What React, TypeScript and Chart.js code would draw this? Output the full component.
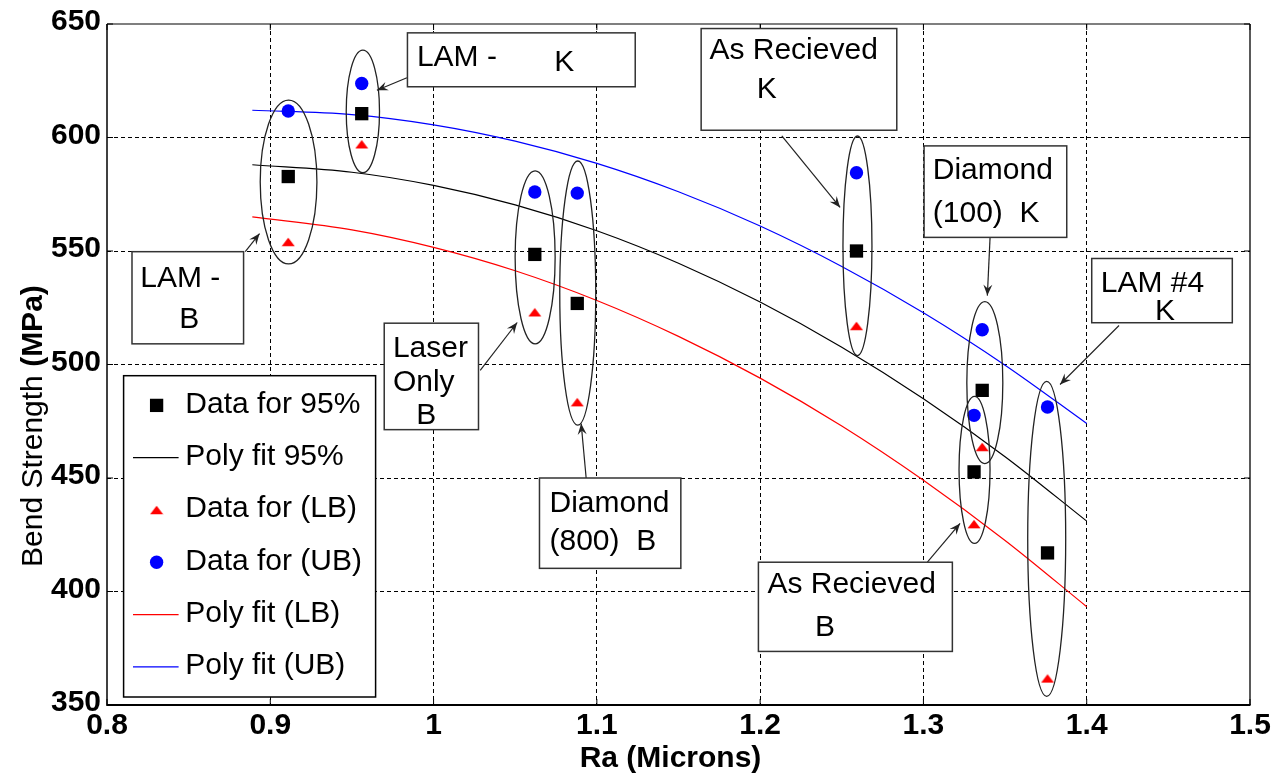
import React, { useEffect, useRef } from "react";
import { Chart, registerables } from "chart.js";

Chart.register(...registerables);

const FONT = '"Liberation Sans", Arial, Helvetica, sans-serif';

// Surface roughness (Ra, microns) of each specimen group
const groupRa = [0.911, 0.956, 1.062, 1.088, 1.259, 1.336, 1.331, 1.376];
// Bend strength (MPa): 95% value, lower bound, upper bound
const strength95 = [582.8, 610.5, 548.5, 526.9, 550.0, 488.6, 452.7, 417.0];
const strengthLB = [554.0, 597.0, 523.0, 483.4, 517.0, 463.7, 429.7, 361.7];
const strengthUB = [611.7, 623.8, 576.0, 575.5, 584.5, 515.3, 477.6, 481.3];

// Polynomial fit curves sampled along Ra
const fitRa = [0.889, 0.95, 1.0, 1.05, 1.1, 1.15, 1.2, 1.25, 1.3, 1.35, 1.4];
const fit95 = [588, 584.7, 578.9, 570.3, 558.9, 544.6, 527.5, 507.6, 484.9, 459.4, 431];
const fitLB = [565, 559.3, 551.6, 541.3, 528.2, 512.4, 494, 472.9, 449.0, 422.5, 393.3];
const fitUB = [612, 610.1, 605.6, 598.4, 588.6, 576.1, 561, 543.2, 522.8, 499.7, 474];

// Axis ticks
const xTicks = [0.8, 0.9, 1.0, 1.1, 1.2, 1.3, 1.4, 1.5];
const xTickLabels = ["0.8", "0.9", "1", "1.1", "1.2", "1.3", "1.4", "1.5"];
const yTicks = [350, 400, 450, 500, 550, 600, 650];
const yTickLabels = ["350", "400", "450", "500", "550", "600", "650"];

// Rings around each specimen group (centre in Ra / MPa, half-extents in axis units)
const groupRings = [
  { x: 0.9112, y: 580.4, rx: 0.01736, ry: 36.1 },
  { x: 0.9567, y: 611.5, rx: 0.01019, ry: 27.0 },
  { x: 1.0622, y: 547.2, rx: 0.01225, ry: 38.1 },
  { x: 1.0883, y: 531.45, rx: 0.01102, ry: 58.2 },
  { x: 1.2596, y: 552.3, rx: 0.00888, ry: 48.35 },
  { x: 1.3376, y: 492.0, rx: 0.01102, ry: 35.7 },
  { x: 1.3313, y: 453.6, rx: 0.00949, ry: 32.4 },
  { x: 1.3755, y: 423.2, rx: 0.01163, ry: 69.4 },
];

// Callout boxes: box corners, text lines (left / baseline) and arrow (from -> to), in Ra / MPa
const callouts = [
  {
    box: [0.984, 646.1, 1.1235, 622.35],
    lines: [
      { text: "LAM -", x: 0.9898, y: 631.45 },
      { text: "K", x: 1.0739, y: 629.25 },
    ],
    arrow: [0.98368, 626.3, 0.96531, 620.8],
  },
  {
    box: [0.81531, 549.7, 0.88364, 509.1],
    lines: [
      { text: "LAM -", x: 0.82039, y: 534.3 },
      { text: "B", x: 0.84427, y: 516.15 },
    ],
    arrow: [0.88467, 549.7, 0.89343, 557.7],
  },
  {
    box: [0.96978, 518.2, 1.02751, 471.3],
    lines: [
      { text: "Laser", x: 0.97511, y: 503.5 },
      { text: "Only", x: 0.97511, y: 488.2 },
      { text: "B", x: 0.98937, y: 474.0 },
    ],
    arrow: [1.02856, 497.4, 1.05121, 518.5],
  },
  {
    box: [1.06486, 450.0, 1.15143, 410.2],
    lines: [
      { text: "Diamond", x: 1.07098, y: 435.1 },
      { text: "(800)  B", x: 1.07098, y: 418.3 },
    ],
    arrow: [1.09345, 450.0, 1.09039, 473.96],
  },
  {
    box: [1.16387, 648.0, 1.28368, 603.2],
    lines: [
      { text: "As Recieved", x: 1.16894, y: 634.4 },
      { text: "K", x: 1.19797, y: 617.5 },
    ],
    arrow: [1.21327, 600.7, 1.24897, 569.2],
  },
  {
    box: [1.3004, 596.3, 1.38777, 556.0],
    lines: [
      { text: "Diamond", x: 1.30573, y: 581.6 },
      { text: "(100)  K", x: 1.30573, y: 562.6 },
    ],
    arrow: [1.34081, 556.0, 1.33915, 530.35],
  },
  {
    box: [1.19894, 412.9, 1.31772, 373.6],
    lines: [
      { text: "As Recieved", x: 1.20446, y: 399.2 },
      { text: "B", x: 1.23366, y: 380.2 },
    ],
    arrow: [1.30242, 412.9, 1.32244, 430.0],
  },
  {
    box: [1.40307, 546.7, 1.48916, 518.4],
    lines: [
      { text: "LAM #4", x: 1.40859, y: 532.1 },
      { text: "K", x: 1.44183, y: 519.4 },
    ],
    arrow: [1.41979, 517.2, 1.38366, 491.2],
  },
];

const pairs = (xs: number[], ys: number[]) => xs.map((x, i) => ({ x, y: ys[i] }));

function drawArrow(ctx: CanvasRenderingContext2D, x0: number, y0: number, x1: number, y1: number) {
  ctx.beginPath();
  ctx.moveTo(x0, y0);
  ctx.lineTo(x1, y1);
  ctx.stroke();
  const a = Math.atan2(y1 - y0, x1 - x0);
  const c = Math.cos(a);
  const s = Math.sin(a);
  const L = 11;
  const W = 4.5;
  const N = 7;
  ctx.beginPath();
  ctx.moveTo(x1, y1);
  ctx.lineTo(x1 - L * c + W * s, y1 - L * s - W * c);
  ctx.lineTo(x1 - N * c, y1 - N * s);
  ctx.lineTo(x1 - L * c - W * s, y1 - L * s + W * c);
  ctx.closePath();
  ctx.fill();
}

function drawMarker(ctx: CanvasRenderingContext2D, ds: any, x: number, y: number) {
  const style = ds.pointStyle;
  if (style && typeof style === "object") {
    ctx.drawImage(style, x - style.width / 2, y - style.height / 2);
    return;
  }
  ctx.fillStyle = ds.backgroundColor;
  if (style === "rect") {
    const h = ds.pointRadius * Math.SQRT1_2;
    ctx.fillRect(x - h, y - h, 2 * h, 2 * h);
  } else {
    ctx.beginPath();
    ctx.arc(x, y, ds.pointRadius, 0, Math.PI * 2);
    ctx.fill();
  }
}

const framePlugin = {
  id: "frame",
  beforeDatasetsDraw(chart: any) {
    const { ctx, chartArea: a, scales } = chart;
    const x = scales.x;
    const y = scales.y;
    ctx.save();
    ctx.strokeStyle = "#000";
    ctx.lineWidth = 1;
    ctx.beginPath();
    xTicks.forEach((v) => {
      const px = x.getPixelForValue(v);
      ctx.moveTo(px, a.bottom);
      ctx.lineTo(px, a.bottom - 6);
      ctx.moveTo(px, a.top);
      ctx.lineTo(px, a.top + 6);
    });
    yTicks.forEach((v) => {
      const py = y.getPixelForValue(v);
      ctx.moveTo(a.left, py);
      ctx.lineTo(a.left + 6, py);
      ctx.moveTo(a.right, py);
      ctx.lineTo(a.right - 6, py);
    });
    ctx.stroke();
    const edge = (w: number, x0: number, y0: number, x1: number, y1: number) => {
      ctx.lineWidth = w;
      ctx.beginPath();
      ctx.moveTo(x0, y0);
      ctx.lineTo(x1, y1);
      ctx.stroke();
    };
    edge(1.2, a.left, a.top, a.right, a.top);
    edge(1.3, a.right, a.top, a.right, a.bottom);
    edge(2, a.left, a.bottom, a.right + 0.5, a.bottom);
    edge(1.5, a.left, a.top, a.left, a.bottom + 1);
    ctx.restore();
  },
};

const notesPlugin = {
  id: "notes",
  afterDraw(chart: any) {
    const { ctx, chartArea: a, scales } = chart;
    const x = scales.x;
    const y = scales.y;
    const px = (v: number) => x.getPixelForValue(v);
    const py = (v: number) => y.getPixelForValue(v);
    ctx.save();

    // rings around groups
    ctx.strokeStyle = "#222";
    ctx.lineWidth = 1.3;
    groupRings.forEach((r) => {
      const cx = px(r.x);
      const cy = py(r.y);
      const rx = Math.abs(px(r.x + r.rx) - cx);
      const ry = Math.abs(py(r.y + r.ry) - cy);
      ctx.beginPath();
      ctx.ellipse(cx, cy, rx, ry, 0, 0, Math.PI * 2);
      ctx.stroke();
    });

    // callouts
    ctx.font = `30px ${FONT}`;
    ctx.textAlign = "left";
    ctx.textBaseline = "alphabetic";
    callouts.forEach((c) => {
      ctx.strokeStyle = "#222";
      ctx.fillStyle = "#222";
      ctx.lineWidth = 1.2;
      drawArrow(ctx, px(c.arrow[0]), py(c.arrow[1]), px(c.arrow[2]), py(c.arrow[3]));
      const bx0 = px(c.box[0]);
      const by0 = py(c.box[1]);
      const bx1 = px(c.box[2]);
      const by1 = py(c.box[3]);
      ctx.fillStyle = "#fff";
      ctx.fillRect(bx0, by0, bx1 - bx0, by1 - by0);
      ctx.lineWidth = 1.5;
      ctx.strokeStyle = "#333";
      ctx.strokeRect(bx0, by0, bx1 - bx0, by1 - by0);
      ctx.fillStyle = "#000";
      c.lines.forEach((l) => ctx.fillText(l.text, px(l.x), py(l.y)));
    });

    // legend
    const lw = 252;
    const lh = 321.3;
    const lx = a.left + 16.6;
    const ly = a.bottom - 8 - lh;
    ctx.fillStyle = "#fff";
    ctx.fillRect(lx, ly, lw, lh);
    ctx.strokeStyle = "#000";
    ctx.lineWidth = 1.5;
    ctx.strokeRect(lx, ly, lw, lh);
    ctx.textBaseline = "middle";
    chart.data.datasets.forEach((ds: any, i: number) => {
      const cy = ly + 29.7 + i * 52.3;
      if (ds.showLine) {
        ctx.strokeStyle = ds.borderColor;
        ctx.lineWidth = ds.borderWidth;
        ctx.beginPath();
        ctx.moveTo(lx + 9.4, cy);
        ctx.lineTo(lx + 55, cy);
        ctx.stroke();
      } else {
        drawMarker(ctx, ds, lx + 33, cy);
      }
      ctx.fillStyle = "#000";
      ctx.font = `30px ${FONT}`;
      ctx.fillText(ds.label, lx + 61.7, cy - 1);
    });

    // axis titles
    ctx.textBaseline = "alphabetic";
    ctx.font = `bold 30px ${FONT}`;
    ctx.textAlign = "center";
    ctx.fillText("Ra (Microns)", (a.left + a.right) / 2 - 8, a.bottom + 61.5);

    ctx.translate(a.left - 65, a.bottom - 138);
    ctx.rotate(-Math.PI / 2);
    ctx.textAlign = "left";
    const reg = "Bend Strength ";
    ctx.font = `30px ${FONT}`;
    const w1 = ctx.measureText(reg).width;
    ctx.fillText(reg, 0, 0);
    ctx.font = `bold 30px ${FONT}`;
    ctx.fillText("(MPa)", w1, 0);
    ctx.restore();
  },
};

export default function App() {
  const ref = useRef<HTMLCanvasElement>(null);

  useEffect(() => {
    const canvas = ref.current;
    if (!canvas) return;

    // flat red triangle marker
    const tri = document.createElement("canvas");
    tri.width = 14;
    tri.height = 10;
    const t = tri.getContext("2d")!;
    t.fillStyle = "#ff0000";
    t.beginPath();
    t.moveTo(0.5, 9.2);
    t.lineTo(7, 0.8);
    t.lineTo(13.5, 9.2);
    t.closePath();
    t.fill();

    const gridColor = (c: any) =>
      c.index === 0 || c.index === c.scale.ticks.length - 1 ? "rgba(0,0,0,0)" : "#000";

    const chart = new Chart(canvas, {
      type: "scatter",
      data: {
        datasets: [
          {
            label: "Data for 95%",
            data: pairs(groupRa, strength95),
            pointStyle: "rect",
            pointRadius: 9.4,
            backgroundColor: "#000",
            borderColor: "#000",
            borderWidth: 0,
            showLine: false,
          },
          {
            label: "Poly fit 95%",
            data: pairs(fitRa, fit95),
            showLine: true,
            borderColor: "#000",
            borderWidth: 1.2,
            pointRadius: 0,
            cubicInterpolationMode: "monotone",
          },
          {
            label: "Data for (LB)",
            data: pairs(groupRa, strengthLB),
            pointStyle: tri,
            pointRadius: 5,
            backgroundColor: "#ff0000",
            borderWidth: 0,
            showLine: false,
          },
          {
            label: "Data for (UB)",
            data: pairs(groupRa, strengthUB),
            pointStyle: "circle",
            pointRadius: 6.7,
            backgroundColor: "#0000ff",
            borderColor: "#0000ff",
            borderWidth: 0,
            showLine: false,
          },
          {
            label: "Poly fit (LB)",
            data: pairs(fitRa, fitLB),
            showLine: true,
            borderColor: "#ff0000",
            borderWidth: 1.2,
            pointRadius: 0,
            cubicInterpolationMode: "monotone",
          },
          {
            label: "Poly fit (UB)",
            data: pairs(fitRa, fitUB),
            showLine: true,
            borderColor: "#0000ff",
            borderWidth: 1.2,
            pointRadius: 0,
            cubicInterpolationMode: "monotone",
          },
        ],
      },
      options: {
        responsive: false,
        animation: false,
        events: [],
        layout: { padding: { left: 0, top: 23, right: 32, bottom: 0 } },
        plugins: { legend: { display: false }, tooltip: { enabled: false } },
        scales: {
          x: {
            type: "linear",
            min: 0.8,
            max: 1.5,
            afterBuildTicks: (s: any) => {
              s.ticks = xTicks.map((v) => ({ value: v }));
            },
            afterFit: (s: any) => {
              s.height = 69;
            },
            ticks: {
              autoSkip: false,
              maxRotation: 0,
              padding: 3,
              color: "#000",
              font: { family: FONT, size: 30, weight: "bold" },
              callback: (_v: any, i: number) => xTickLabels[i],
            },
            grid: { color: gridColor, lineWidth: 1, drawTicks: false },
            border: { display: false, dash: [4, 3] },
          },
          y: {
            type: "linear",
            min: 350,
            max: 650,
            afterBuildTicks: (s: any) => {
              s.ticks = yTicks.map((v) => ({ value: v }));
            },
            afterFit: (s: any) => {
              s.width = 107;
            },
            ticks: {
              autoSkip: false,
              padding: 6,
              labelOffset: -2,
              color: "#000",
              font: { family: FONT, size: 30, weight: "bold" },
              callback: (_v: any, i: number) => yTickLabels[i],
            },
            grid: { color: gridColor, lineWidth: 1, drawTicks: false },
            border: { display: false, dash: [4, 3] },
          },
        },
      },
      plugins: [framePlugin, notesPlugin],
    } as any);

    return () => chart.destroy();
  }, []);

  return (
    <div style={{ position: "absolute", left: 0, top: 0, width: 1282, height: 774, background: "#fff" }}>
      <canvas ref={ref} width={1282} height={774} style={{ display: "block" }} />
    </div>
  );
}
